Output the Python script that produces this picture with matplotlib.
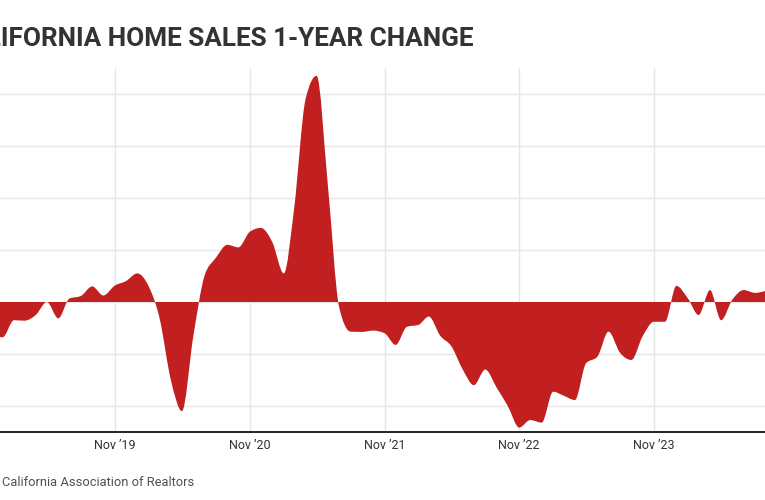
import matplotlib

matplotlib.use("Agg")
import matplotlib.pyplot as plt
import matplotlib.dates as mdates
from matplotlib.path import Path
from matplotlib.patches import PathPatch
import numpy as np
import pandas as pd

plt.rcParams["font.family"] = ["Roboto", "DejaVu Sans"]

# monthly 1-year change in California home sales (%), Dec 2018 .. Sep 2024
months = pd.date_range("2018-12-01", periods=70, freq="MS")
change = [
    -11.0,
    -13.6, -7.0, -7.2, -5.0, 0.0, -6.3, 1.3, 2.3, 6.0, 2.5, 6.3, 8.0,
    11.0, 6.0, -6.0, -30.0, -42.0, -13.0, 10.0, 17.0, 22.0, 21.0, 27.0, 28.5,
    23.0, 11.0, 36.0, 78.0, 87.0, 44.0, -2.0, -11.4, -11.5, -11.0, -12.0, -16.5,
    -9.5, -8.8, -5.6, -13.0, -17.0, -26.0, -32.0, -26.0, -33.0, -40.0, -48.3, -45.4,
    -46.4, -34.5, -36.0, -37.7, -23.6, -21.0, -11.4, -19.5, -22.3, -13.3, -7.6, -7.6,
    6.2, 1.4, -5.0, 4.6, -7.0, 1.0, 4.6, 3.5, 4.4,
]
tick_dates = ["2019-11-01", "2020-11-01", "2021-11-01", "2022-11-01", "2023-11-01"]
tick_labels = ["Nov \u201919", "Nov \u201920", "Nov \u201921", "Nov \u201922", "Nov \u201923"]
y_grid = [-40, -20, 0, 20, 40, 60, 80]

FILL = "#c11f20"


def monotone_area(x, y):
    """Closed path of a monotone-x curve filled down to zero."""
    x = np.asarray(x, dtype=float)
    y = np.asarray(y, dtype=float)
    n = len(x)
    h = np.diff(x)
    s = np.diff(y) / h
    t = np.zeros(n)
    sgn = lambda v: -1.0 if v < 0 else 1.0
    for i in range(1, n - 1):
        p = (s[i - 1] * h[i] + s[i] * h[i - 1]) / (h[i - 1] + h[i])
        t[i] = (sgn(s[i - 1]) + sgn(s[i])) * min(abs(s[i - 1]), abs(s[i]), 0.5 * abs(p))
    t[0] = (3 * s[0] - t[1]) / 2
    t[-1] = (3 * s[-1] - t[-2]) / 2

    verts = [(x[0], 0.0), (x[0], y[0])]
    codes = [Path.MOVETO, Path.LINETO]
    for i in range(n - 1):
        dx = h[i] / 3
        verts += [
            (x[i] + dx, y[i] + dx * t[i]),
            (x[i + 1] - dx, y[i + 1] - dx * t[i + 1]),
            (x[i + 1], y[i + 1]),
        ]
        codes += [Path.CURVE4] * 3
    verts += [(x[-1], 0.0), (x[0], 0.0)]
    codes += [Path.LINETO, Path.CLOSEPOLY]
    return Path(verts, codes)


fig = plt.figure(figsize=(7.65, 5), dpi=100)
ax = fig.add_axes([0, 1 - 432 / 500, 1, (432 - 68) / 500])

xnum = mdates.date2num(months.to_pydatetime())
ax.add_patch(PathPatch(monotone_area(xnum, change), facecolor=FILL,
                       edgecolor="none", zorder=2))

ax.set_xlim(mdates.date2num(pd.Timestamp("2018-12-25")),
            mdates.date2num(pd.Timestamp("2024-08-28")))
ax.set_ylim(-50, 90)

ax.set_xticks(mdates.date2num(pd.to_datetime(tick_dates).to_pydatetime()))
ax.set_xticklabels(tick_labels)
ax.set_yticks(y_grid)
ax.tick_params(axis="x", length=0, pad=5, labelsize=9, labelcolor="#333333")
ax.tick_params(axis="y", length=0, labelleft=False)
ax.grid(True, color="#e6e6e6", linewidth=1.0, zorder=0)
ax.set_axisbelow(True)

for side in ("top", "left", "right"):
    ax.spines[side].set_visible(False)
ax.spines["bottom"].set_color("#222222")
ax.spines["bottom"].set_linewidth(1.4)
ax.spines["bottom"].set_zorder(3)

# the chart is cropped on the left, so the title's first letters fall off
fig.text(473 / 765, 1 - 46 / 500, "CALIFORNIA HOME SALES 1-YEAR CHANGE",
         ha="right", va="baseline", fontsize=18.8, fontweight="bold",
         color="#333333")
fig.text(2 / 765, 1 - 486 / 500, "California Association of Realtors",
         ha="left", va="baseline", fontsize=9.3, color="#505050")

fig.savefig("out.png", dpi=100)
